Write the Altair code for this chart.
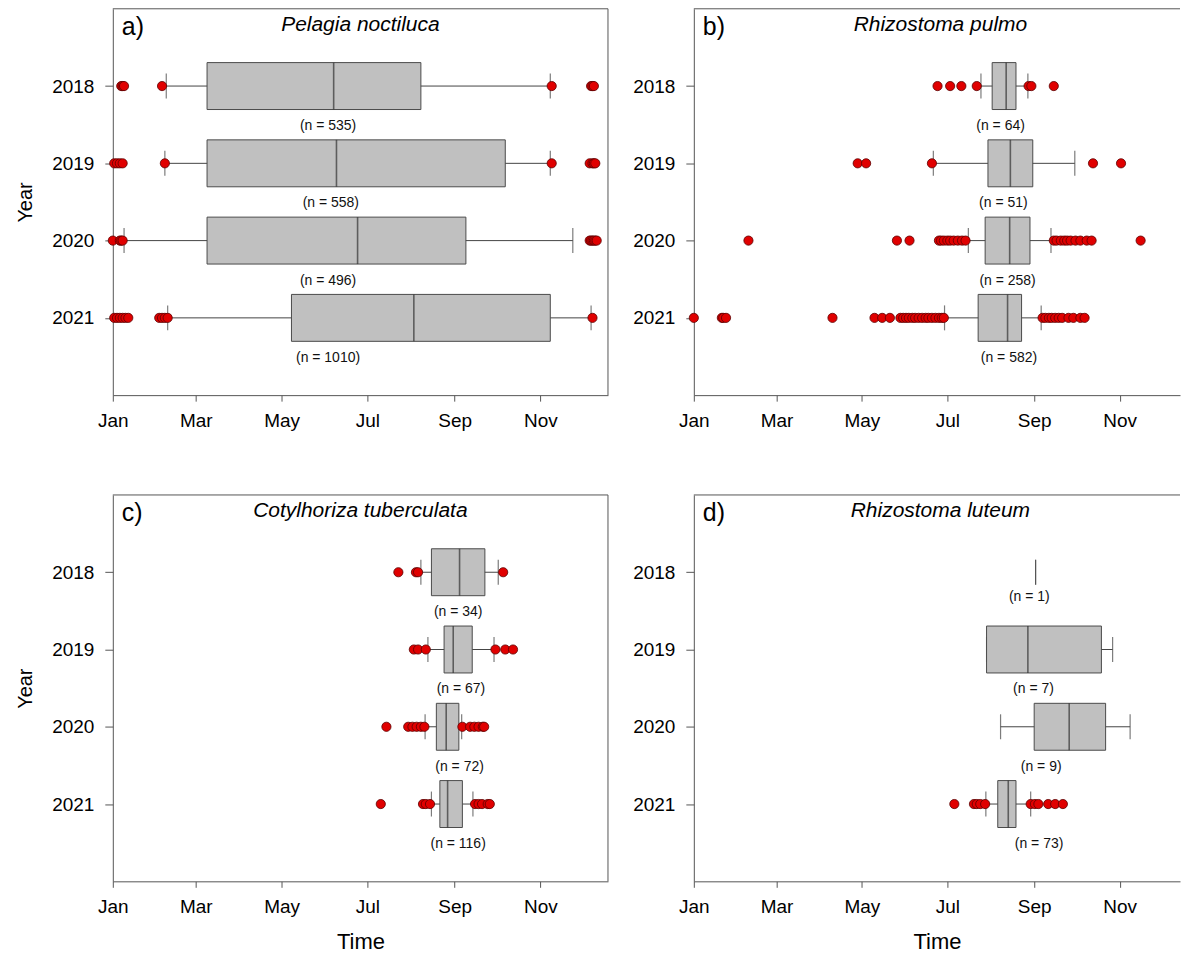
import altair as alt
import pandas as pd

FONT = "Liberation Sans"

years = [2018, 2019, 2020, 2021]
month_days = [0, 59, 120, 181, 243, 304]
month_names = ["Jan", "Mar", "May", "Jul", "Sep", "Nov"]

# ---- a) Pelagia noctiluca (day of year, 0 = 1 Jan)
a_lo = [38, 37, 8, 39]
a_q1 = [67, 67, 67, 127]
a_med = [157, 159, 174, 214]
a_q3 = [219, 279, 251, 311]
a_hi = [311, 311, 327, 340]
a_n = [535, 558, 496, 1010]
a_label_day = [153, 155, 153, 153]
a_out_2018 = [6, 7, 8, 35, 312, 340, 341, 342]
a_out_2019 = [1, 3, 5, 7, 37, 312, 339, 341, 342, 343]
a_out_2020 = [0, 5, 6, 7, 339, 340, 341, 342, 343, 344]
a_out_2021 = [1, 3, 5, 7, 9, 11, 33, 35, 37, 39, 341]

# ---- b) Rhizostoma pulmo
b_lo = [205, 171, 196, 179]
b_q1 = [213, 210, 208, 203]
b_med = [223, 226, 225.5, 224]
b_q3 = [230, 242, 240, 234]
b_hi = [238.5, 272, 255, 248]
b_n = [64, 51, 258, 582]
b_label_day = [219, 221, 224, 225]
b_out_2018 = [174, 183, 191, 202, 239, 241, 257]
b_out_2019 = [117, 123, 170, 285, 305]
b_out_2020 = [39, 145, 154, 175, 176.5, 178.5, 181, 183, 185.5, 188.5, 191.5, 194,
              257, 259, 262, 264.5, 266.5, 269, 272.5, 276, 280.5, 284, 319]
b_out_2021 = [0, 20, 21, 23, 99, 129, 134.5, 140, 147.5, 149.5, 151.5, 153.5, 156,
              158, 160.5, 163, 165.5, 167.5, 170, 172.5, 175, 177, 178.5,
              249, 251, 253.5, 255.5, 258, 260.5, 263, 267.5, 271, 276, 279]

# ---- c) Cotylhoriza tuberculata
c_lo = [219, 224, 222, 226.5]
c_q1 = [226.5, 235.5, 230, 232.5]
c_med = [246.5, 242, 237, 238]
c_q3 = [264.5, 255.5, 246, 248.5]
c_hi = [274, 271, 248, 256]
c_n = [34, 67, 72, 116]
c_label_day = [245.5, 247.5, 246.5, 245.5]
c_out_2018 = [203, 215.5, 217, 277.5]
c_out_2019 = [214, 217, 222.5, 272, 279, 284.5]
c_out_2020 = [194.5, 210, 213, 216, 219, 221.5, 248.5, 254, 257, 260, 263, 264]
c_out_2021 = [190.5, 220.5, 222.5, 225.5, 257.5, 260, 262.5, 266.5, 268]

# ---- d) Rhizostoma luteum
d_lo = [244, 209, 219, 208.5]
d_q1 = [244, 209, 243, 217]
d_med = [244, 238.5, 268, 224.5]
d_q3 = [244, 291, 294, 230]
d_hi = [244, 299, 311.5, 240.5]
d_n = [1, 7, 9, 73]
d_label_day = [239.5, 242.5, 248, 246.5]
d_out_2018 = []
d_out_2019 = []
d_out_2020 = []
d_out_2021 = [186, 200, 202, 204.5, 208, 240.5, 243.5, 246, 253, 258, 263.5]

H = 387
BOX_STROKE = "#4a4a4a"
LINE = "#555555"
WHISK = "#444444"

label_expr = " : ".join(
    "datum.value == %d ? '%s'" % (d, m) for d, m in zip(month_days, month_names)
) + " : ''"


def panel(letter, species, lo, q1, med, q3, hi, n, label_day, outliers,
          width, xmax, title_x, left, bottom, right_frame):
    stats = pd.DataFrame({"year": years, "lo": lo, "q1": q1, "med": med,
                          "q3": q3, "hi": hi, "n": n, "lx": label_day})
    stats["label"] = ["(n = %d)" % v for v in n]
    rows = [{"year": y, "day": d} for y, vals in zip(years, outliers) for d in vals]
    out = pd.DataFrame(rows, columns=["year", "day"])
    one = pd.DataFrame({"k": [0]})

    xs = alt.Scale(domain=[0, xmax], nice=False, zero=False)
    ys = alt.Scale(type="point", domain=years, padding=1)
    xaxis = alt.Axis(values=month_days, labelExpr=label_expr, grid=False,
                     title="Time" if bottom else None, tickSize=6,
                     labelPadding=10, labelFontSize=19, labelFlush=False,
                     labelOverlap=False, titleFontSize=22, titlePadding=15,
                     titleFontWeight="normal")
    yaxis = alt.Axis(values=years, grid=False, title="Year" if left else None,
                     tickSize=8, labelPadding=11, labelFontSize=19,
                     titleFontSize=20, titlePadding=16, titleFontWeight="normal")

    def X(f):
        return alt.X("%s:Q" % f, scale=xs, axis=xaxis)

    Y = alt.Y("year:O", scale=ys, axis=yaxis)
    base = alt.Chart(stats)

    whisk = base.mark_rule(color=WHISK, strokeWidth=1).encode(x=X("lo"), x2="hi", y=Y)
    cap_lo = base.mark_tick(orient="vertical", size=25, thickness=1.2, color=WHISK).encode(x=X("lo"), y=Y)
    cap_hi = base.mark_tick(orient="vertical", size=25, thickness=1.2, color=WHISK).encode(x=X("hi"), y=Y)
    box = base.transform_filter("datum.n > 1").mark_bar(
        size=47, fill="#c0c0c0", stroke=BOX_STROKE, strokeWidth=1, opacity=1
    ).encode(x=X("q1"), x2="q3", y=Y)
    median = base.transform_filter("datum.n > 1").mark_tick(
        orient="vertical", size=47, thickness=1.6, color="#333333"
    ).encode(x=X("med"), y=Y)
    pts = alt.Chart(out).mark_circle(
        size=85, fill="#e00000", stroke="#5c0000", strokeWidth=0.8, opacity=1
    ).encode(x=alt.X("day:Q", scale=xs, axis=xaxis), y=Y)
    lab = base.transform_filter("datum.n > 1").mark_text(
        font=FONT, fontSize=14, color="#111111", dy=40
    ).encode(x=X("lx"), y=Y, text="label:N")
    lab1 = base.transform_filter("datum.n <= 1").mark_text(
        font=FONT, fontSize=14, color="#111111", dy=25
    ).encode(x=X("lx"), y=Y, text="label:N")
    let = alt.Chart(one).mark_text(
        text=letter, font=FONT, fontSize=25, align="left", baseline="alphabetic", color="#000000"
    ).encode(x=alt.value(9), y=alt.value(26))
    ttl = alt.Chart(one).mark_text(
        text=species, font=FONT, fontSize=21, fontStyle="italic", align="center",
        baseline="alphabetic", color="#000000"
    ).encode(x=alt.value(title_x), y=alt.value(22))
    top = alt.Chart(one).mark_rule(color=LINE, strokeWidth=1).encode(
        x=alt.value(0), x2=alt.value(width), y=alt.value(0))
    layers = [whisk, cap_lo, cap_hi, box, median, pts, lab, lab1, let, ttl, top]
    if right_frame:
        layers.append(alt.Chart(one).mark_rule(color=LINE, strokeWidth=1).encode(
            x=alt.value(width), y=alt.value(0), y2=alt.value(H)))
    return alt.layer(*layers).properties(width=width, height=H)


WL = 496
WR = 487
pa = panel("a)", "Pelagia noctiluca", a_lo, a_q1, a_med, a_q3, a_hi, a_n, a_label_day,
           [a_out_2018, a_out_2019, a_out_2020, a_out_2021], WL, 352, 248, True, False, True)
pb = panel("b)", "Rhizostoma pulmo", b_lo, b_q1, b_med, b_q3, b_hi, b_n, b_label_day,
           [b_out_2018, b_out_2019, b_out_2020, b_out_2021], WR, WR / 1.403, 247, False, False, False)
pc = panel("c)", "Cotylhoriza tuberculata", c_lo, c_q1, c_med, c_q3, c_hi, c_n, c_label_day,
           [c_out_2018, c_out_2019, c_out_2020, c_out_2021], WL, 352, 248, True, True, True)
pd_ = panel("d)", "Rhizostoma luteum", d_lo, d_q1, d_med, d_q3, d_hi, d_n, d_label_day,
            [d_out_2018, d_out_2019, d_out_2020, d_out_2021], WR, WR / 1.403, 247, False, True, False)

chart = alt.vconcat(
    alt.hconcat(pa, pb, spacing=23),
    alt.hconcat(pc, pd_, spacing=23),
    spacing=64,
).properties(
    padding={"left": 15, "top": 7, "right": 0, "bottom": 0},
    background="white",
).configure_view(stroke=None).configure_axis(
    domainColor=LINE, tickColor=LINE, labelColor="#000000", titleColor="#000000",
    labelFont=FONT, titleFont=FONT, domainWidth=1, tickWidth=1,
).configure_text(font=FONT)

chart.save("out.html", embed_options={"renderer": "svg", "actions": False})
